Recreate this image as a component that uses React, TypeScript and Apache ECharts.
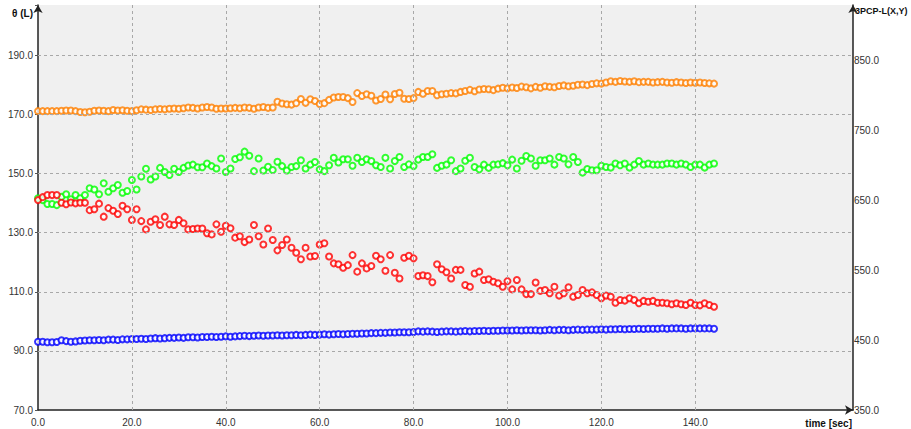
import React, { useEffect, useRef } from 'react';
import * as echarts from 'echarts';

// sample period of the recorded series (seconds)
const SAMPLE_STEP = 1;

const X_TICKS = [0, 20, 40, 60, 80, 100, 120, 140];
const Y_LEFT_TICKS = [70, 90, 110, 130, 150, 170, 190];
const Y_RIGHT_TICKS = [350, 450, 550, 650, 750, 850];

const orangeValues = [
  171.1, 171.1, 171.1, 171.1, 171.1, 171.2, 171.3, 171.3, 171.1, 170.8,
  170.7, 170.9, 171.2, 171.3, 171.2, 171.1, 171.5, 171.3, 171.4, 171.2,
  171.1, 171.4, 171.7, 171.6, 171.5, 171.7, 171.8, 171.7, 171.9, 172.0,
  171.9, 172.1, 172.3, 172.2, 172.0, 172.3, 172.5, 172.3, 171.9, 172.0,
  172.0, 172.1, 172.2, 172.1, 172.3, 172.2, 171.9, 172.3, 172.5, 172.2,
  172.3, 174.3, 173.7, 173.4, 173.3, 173.8, 175.2, 173.9, 175.1, 174.5,
  173.5, 173.8, 174.9, 175.7, 175.9, 175.9, 175.5, 174.2, 177.2, 176.2,
  176.8, 176.3, 174.7, 175.2, 176.7, 175.1, 176.9, 177.3, 175.3, 175.2,
  175.5, 177.6, 177.0, 177.9, 177.9, 176.5, 176.8, 177.0, 177.2, 177.1,
  177.6, 177.9, 178.3, 177.8, 178.4, 178.6, 178.5, 178.2, 178.7, 179.0,
  178.8, 179.1, 178.9, 179.4, 179.2, 178.8, 179.3, 179.0, 179.5, 179.3,
  179.2, 179.6, 179.8, 179.5, 179.7, 180.0, 180.1, 179.9, 180.3, 180.5,
  180.4, 180.8, 181.2, 181.0, 181.3, 181.1, 181.0, 181.2, 180.9, 181.0,
  181.0, 180.8, 180.9, 181.0, 180.8, 180.7, 180.9, 180.8, 180.6, 180.8,
  180.7, 180.8, 180.6, 180.5, 180.4,
];

const greenValues = [
  141.6, 141.0, 139.7, 139.7, 139.3, 142.1, 143.0, 141.3, 142.7, 141.6,
  142.7, 145.0, 144.6, 143.0, 146.7, 143.8, 145.0, 146.1, 143.5, 144.1,
  147.8, 144.6, 149.0, 151.6, 148.0, 149.0, 151.9, 150.5, 149.5, 151.6,
  150.5, 151.9, 152.7, 153.0, 152.1, 152.1, 153.4, 152.5, 151.7, 155.1,
  150.5, 151.7, 154.9, 155.5, 157.4, 156.0, 150.8, 155.1, 151.0, 152.3,
  151.2, 154.0, 152.5, 151.0,
  152.2, 152.5, 154.5, 151.7, 153.0, 153.9, 151.4, 150.8, 152.8, 155.3,
  153.7, 154.8, 154.8, 152.6, 155.3, 153.9, 154.8, 154.2, 152.8, 152.2,
  155.3, 151.7, 154.2, 155.6, 152.2, 153.1, 152.5, 154.7, 155.6, 155.6,
  156.5, 151.9, 152.6, 153.0, 154.5, 150.8, 151.7, 154.3, 155.3, 152.2,
  151.4, 153.0, 151.9, 153.0, 153.1, 153.5, 152.8, 154.7, 151.7, 154.3,
  155.9, 155.1, 152.6, 154.5, 154.5, 155.1, 153.0, 155.6, 155.1, 153.1,
  155.6, 153.9, 150.3, 151.5,
  151.1, 151.1, 152.6, 152.2, 152.0, 153.4, 152.8, 153.4, 152.0, 153.0,
  154.2, 153.0, 153.4, 153.0, 153.0, 153.0, 153.4, 153.4, 153.0, 153.4,
  153.0, 152.2, 153.0, 153.0, 152.0, 153.0, 153.4,
];

const redValues = [
  141.0, 142.0, 142.7, 142.7, 142.7, 140.1, 139.6, 140.2, 139.9, 140.1,
  140.1, 137.6, 137.9, 139.8, 135.4, 138.3, 137.4, 136.3, 139.1, 137.9,
  134.3, 137.9, 133.9, 131.1, 133.7, 134.5, 132.6, 135.4, 132.8, 132.6,
  134.3, 133.2, 131.1, 131.2, 131.4, 131.4, 129.8, 129.4, 132.8, 130.3,
  132.3, 131.5, 128.3, 128.8, 126.8, 127.7, 132.6, 128.8, 126.0, 131.4,
  127.5, 124.0, 125.8, 127.7,
  124.9, 123.2, 121.0, 124.9, 121.9, 122.1, 126.0, 126.4, 121.9, 119.6,
  119.3, 118.1, 119.0, 122.4, 116.8, 119.6, 117.9, 118.7, 122.2, 121.0,
  117.1, 122.4, 116.4, 114.5, 121.5, 122.2, 121.3, 115.3, 115.6, 115.3,
  113.2, 119.3, 117.6, 116.6, 114.5, 117.4, 117.4, 112.3, 111.7, 116.2,
  116.8, 114.0, 114.2, 113.4, 112.9, 111.7, 113.6, 110.8, 114.0, 110.8,
  109.2, 109.2, 113.1, 110.3, 110.6, 109.5, 111.7, 108.7, 109.5, 111.5,
  108.3, 108.9, 110.6, 109.5,
  109.8, 108.9, 107.8, 108.7, 108.3, 106.3, 107.2, 107.0, 107.8, 107.2,
  106.1, 106.9, 106.6, 106.9, 106.3, 106.3, 106.1, 105.8, 106.1, 105.8,
  105.5, 106.3, 105.5, 105.4, 106.1, 105.5, 104.9,
];

const blueValues = [
  93.1, 93.1, 92.9, 92.9, 93.0, 93.6, 93.3, 93.1, 93.2, 93.4,
  93.5, 93.6, 93.6, 93.7, 93.6, 93.8, 93.8, 93.7, 93.9, 93.9,
  94.0, 94.0, 94.1, 94.0, 94.2, 94.3, 94.2, 94.3, 94.4, 94.4,
  94.5, 94.4, 94.6, 94.6, 94.5, 94.7, 94.7, 94.8, 94.7, 94.8,
  94.9, 94.8, 94.9, 95.0, 95.1, 95.0, 95.1, 95.2, 95.1, 95.2,
  95.2, 95.3, 95.2, 95.3, 95.3, 95.4, 95.3, 95.4, 95.5, 95.4,
  95.5, 95.6, 95.5, 95.6, 95.7, 95.6, 95.7, 95.8, 95.8, 95.9,
  95.9, 96.0, 96.0, 96.1, 96.1, 96.2, 96.2, 96.3, 96.3, 96.3,
  96.4, 96.6, 96.5, 96.6, 96.5, 96.4, 96.5, 96.6, 96.6, 96.5,
  96.6, 96.7, 96.6, 96.7, 96.7, 96.8, 96.7, 96.8, 96.8, 96.9,
  96.9, 96.9, 97.0, 96.9, 97.0, 97.0, 97.0, 96.9, 97.0, 97.1,
  97.0, 97.1, 97.1, 97.0, 97.1, 97.2, 97.1, 97.2, 97.2, 97.2,
  97.3, 97.2, 97.3, 97.3, 97.4, 97.3, 97.4, 97.4, 97.5, 97.4,
  97.5, 97.5, 97.5, 97.6, 97.5, 97.6, 97.6, 97.6, 97.5, 97.6,
  97.6, 97.6, 97.6, 97.6, 97.5,
];

const SERIES = [
  { name: 'blue', color: '#0000ff', values: blueValues },
  { name: 'orange', color: '#ff8000', values: orangeValues },
  { name: 'green', color: '#00ff00', values: greenValues },
  { name: 'red', color: '#ff0000', values: redValues },
];

const FONT = 'Liberation Sans, Arial, sans-serif';

export default function App() {
  const ref = useRef<HTMLDivElement>(null);

  useEffect(() => {
    if (!ref.current) return;
    const chart = echarts.init(ref.current, undefined, { renderer: 'svg' });

    const axisLineStyle = { color: '#222', width: 1.5 };

    const option: any = {
      animation: false,
      backgroundColor: '#ffffff',
      grid: {
        left: 38,
        right: 58,
        top: 5,
        bottom: 19,
        show: true,
        backgroundColor: '#f0f0f0',
        borderWidth: 0,
      },
      xAxis: {
        type: 'value',
        min: 0,
        max: 173.6,
        interval: 20,
        axisLine: {
          show: true,
          onZero: false,
          lineStyle: axisLineStyle,
          symbol: ['none', 'arrow'],
          symbolSize: [7, 8],
        },
        axisTick: { show: false },
        axisLabel: {
          fontFamily: FONT,
          fontSize: 10,
          color: '#333',
          margin: 7,
          formatter: (v: number) => (X_TICKS.includes(v) ? v.toFixed(1) : ''),
        },
        splitLine: { show: false },
      },
      yAxis: [
        {
          type: 'value',
          position: 'left',
          min: 70,
          max: 207,
          interval: 20,
          axisLine: {
            show: true,
            onZero: false,
            lineStyle: axisLineStyle,
            symbol: ['none', 'arrow'],
            symbolSize: [7, 8],
          },
          axisTick: { show: true, length: 3, lineStyle: { color: '#555' } },
          axisLabel: {
            fontFamily: FONT,
            fontSize: 10,
            color: '#333',
            margin: 5,
            formatter: (v: number) => (Y_LEFT_TICKS.includes(v) ? v.toFixed(1) : ''),
          },
          splitLine: { show: false },
        },
        {
          type: 'value',
          position: 'right',
          min: 350,
          max: 930,
          interval: 100,
          axisLine: {
            show: true,
            onZero: false,
            lineStyle: axisLineStyle,
            symbol: ['none', 'arrow'],
            symbolSize: [7, 8],
          },
          axisTick: { show: false },
          axisLabel: {
            fontFamily: FONT,
            fontSize: 10,
            color: '#333',
            margin: 1,
            formatter: (v: number) => (Y_RIGHT_TICKS.includes(v) ? v.toFixed(1) : ''),
          },
          splitLine: { show: false },
        },
      ],
      graphic: [
        {
          type: 'text',
          x: 33,
          y: 13,
          style: {
            text: 'θ (L)',
            fontFamily: FONT,
            fontSize: 10,
            fontWeight: 'bold',
            fill: '#111',
            textAlign: 'right',
            textVerticalAlign: 'middle',
          },
        },
        {
          type: 'text',
          x: 855,
          y: 11,
          style: {
            text: '3PCP-L(X,Y)',
            fontFamily: FONT,
            fontSize: 9,
            fontWeight: 'bold',
            fill: '#111',
            textAlign: 'left',
            textVerticalAlign: 'middle',
          },
        },
        {
          type: 'text',
          x: 852,
          y: 423,
          style: {
            text: 'time [sec]',
            fontFamily: FONT,
            fontSize: 10,
            fontWeight: 'bold',
            fill: '#111',
            textAlign: 'right',
            textVerticalAlign: 'middle',
          },
        },
      ],
      series: [
        {
          type: 'line',
          data: [],
          z: 1,
          silent: true,
          markLine: {
            silent: true,
            symbol: ['none', 'none'],
            label: { show: false },
            animation: false,
            lineStyle: { color: '#a8a8a8', type: [3, 3], width: 1 },
            emphasis: { disabled: true },
            data: [
              ...X_TICKS.filter((v) => v > 0).map((v) => ({ xAxis: v })),
              ...Y_LEFT_TICKS.filter((v) => v > 70).map((v) => ({ yAxis: v })),
            ],
          },
        },
        ...SERIES.map((s) => ({
          name: s.name,
          type: 'scatter',
          z: 3,
          symbol: 'emptyCircle',
          symbolSize: 6,
          itemStyle: { color: s.color, borderColor: s.color, borderWidth: 2.2 },
          data: s.values.map((v, i) => [i * SAMPLE_STEP, v]),
        })),
      ],
    };

    chart.setOption(option);
    return () => chart.dispose();
  }, []);

  return (
    <div
      ref={ref}
      style={{ position: 'absolute', left: 0, top: 0, width: 911, height: 429 }}
    />
  );
}
